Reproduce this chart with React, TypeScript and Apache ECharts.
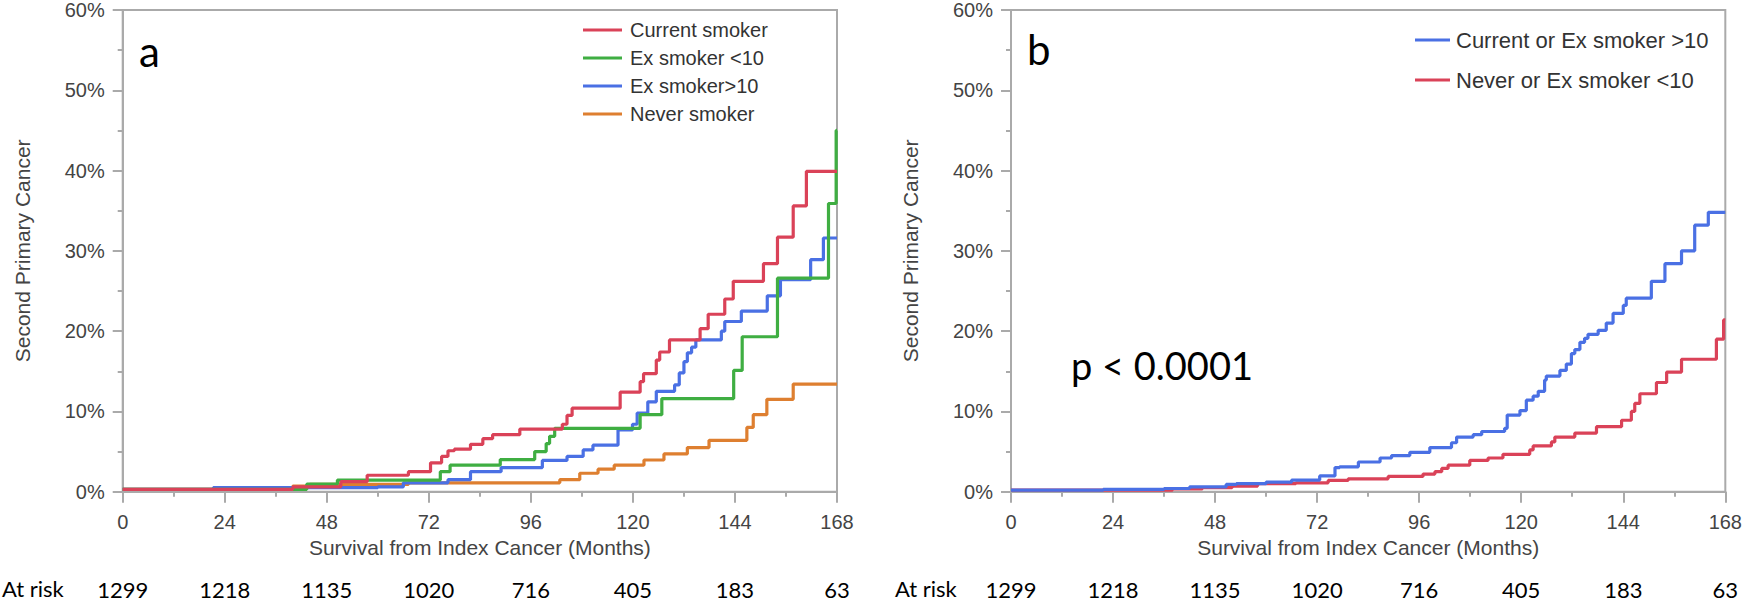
import React, { useEffect, useRef } from "react";
import * as echarts from "echarts";

// ---- Data (months, cumulative %) ----
const monthTicks = [0, 24, 48, 72, 96, 120, 144, 168];
const atRisk = [1299, 1218, 1135, 1020, 716, 405, 183, 63];

const currentSmoker = [
  [0, 0.3], [40, 0.6], [51.3, 1.25], [57.5, 2.05], [67.2, 2.5], [72.4, 3.6], [75, 4.4], [76.5, 5.1],
  [78, 5.3], [81.8, 5.9], [84.7, 6.6], [87, 7.1], [93.4, 7.8], [103.4, 8.4], [104.5, 9.5], [105.7, 10.4],
  [117, 12.4], [121.7, 13.7], [122.5, 14.7], [125.5, 16.4], [126.3, 17.4], [128.6, 18.9], [135.8, 20.3],
  [137.7, 22.1], [141.6, 24.0], [143.6, 26.2], [150.7, 28.4], [154, 31.7], [157.7, 35.6], [160.8, 39.9],
  [168, 39.9],
];
const exSmokerLt10 = [
  [0, 0.3], [43.3, 0.95], [50.5, 1.45], [74.7, 2.5], [77, 3.3], [88.8, 4.0], [96.9, 5.0], [99.6, 6.0],
  [100.4, 6.9], [101.6, 7.9], [121.7, 9.6], [126.8, 11.6], [143.7, 15.1], [145.7, 19.3], [154, 26.6],
  [166, 35.9], [167.8, 45.0], [168, 45.0],
];
const exSmokerGt10 = [
  [0, 0.3], [21.3, 0.5], [60, 0.6], [66, 1.1], [76.5, 1.5], [81.8, 2.5], [89, 3.0], [98.7, 3.9],
  [104.5, 4.4], [108.3, 5.2], [110.6, 5.8], [116.5, 7.7], [119.9, 8.4], [121, 9.8], [123.5, 11.2],
  [125.5, 12.5], [129.8, 13.3], [130.9, 14.8], [132, 16.2], [132.8, 17.3], [133.8, 18.0], [134.8, 18.9],
  [140.8, 20.0], [141.6, 21.2], [145.5, 22.5], [151.6, 24.4], [154.7, 26.4], [161.8, 28.9], [164.8, 31.6],
  [168, 31.6],
];
const neverSmoker = [
  [0, 0.3], [36.2, 0.45], [40, 0.7], [44, 0.9], [67.2, 1.1], [102.8, 1.5], [107.5, 2.3], [111.8, 2.8],
  [115.6, 3.3], [122.6, 3.95], [127.3, 4.7], [132.8, 5.5], [137.9, 6.4], [146.8, 8.0], [148.3, 9.6],
  [151.5, 11.5], [157.7, 13.4], [168, 13.4],
];
const currentOrExGt10 = [
  [0, 0.2], [21.7, 0.3], [36, 0.4], [42, 0.6], [50.6, 0.9], [53, 1.0], [60, 1.2], [66, 1.45], [72.6, 1.96],
  [76.2, 3.0], [77.3, 3.1], [81.7, 3.7], [86.8, 4.2], [89.5, 4.5], [93.8, 4.9], [98.5, 5.5], [103.6, 6.1],
  [104.8, 6.8], [108.7, 7.1], [110.7, 7.5], [116.1, 7.9], [116.7, 9.55], [119.7, 10.1], [121.2, 11.4],
  [122.8, 11.9], [124, 12.5], [125.5, 13.9], [125.9, 14.4], [129.1, 15.1], [130.6, 15.9], [131.8, 17.2],
  [132.6, 17.7], [133.8, 18.6], [134.9, 19.1], [135.7, 19.6], [138.1, 20.1], [140, 21.0], [141.6, 22.2],
  [144, 23.2], [144.7, 24.1], [150.6, 26.2], [153.8, 28.4], [157.7, 30.0], [160.8, 33.2], [164, 34.8],
  [168, 34.8],
];
const neverOrExLt10 = [
  [0, 0.2], [38, 0.35], [45, 0.5], [52, 0.7], [58, 1.0], [67, 1.1], [74.6, 1.4], [79.3, 1.6], [88.7, 1.9],
  [96.9, 2.2], [99.7, 2.5], [101.3, 2.9], [102.8, 3.3], [107.9, 3.9], [112.2, 4.2], [115.7, 4.65],
  [122, 5.2], [122.8, 5.7], [127.1, 6.2], [127.9, 6.8], [132.6, 7.3], [137.7, 8.1], [143.6, 8.9],
  [145.9, 10.0], [146.7, 11.0], [147.9, 12.2], [151.8, 13.6], [154.2, 14.9], [157.7, 16.5], [165.9, 19.0],
  [167.6, 21.4], [168, 21.4],
];

const AX = "#aaaaaa";
const TXT = "#444444";
const SANS = "Liberation Sans, Arial, sans-serif";
const CAL = "Lato, sans-serif";

function mainX(gridIndex: number) {
  return {
    type: "value",
    gridIndex,
    min: 0,
    max: 168,
    interval: 24,
    axisLine: { lineStyle: { color: AX, width: 2 } },
    axisTick: { length: 11, lineStyle: { color: AX, width: 2 } },
    minorTick: { show: true, splitNumber: 2, length: 5, lineStyle: { color: AX, width: 2 } },
    splitLine: { show: false },
    axisLabel: { fontSize: 20, color: TXT, fontFamily: SANS, margin: 20 },
    name: "Survival from Index Cancer (Months)",
    nameLocation: "middle",
    nameGap: 45,
    nameTextStyle: { fontSize: 21, color: TXT, fontFamily: SANS },
  };
}
function riskX(gridIndex: number) {
  return {
    type: "value",
    gridIndex,
    min: 0,
    max: 168,
    interval: 24,
    position: "bottom",
    axisLine: { show: false },
    axisTick: { show: false },
    splitLine: { show: false },
    axisLabel: {
      fontSize: 22,
      lineHeight: 24,
      color: "#000",
      fontFamily: CAL,
      margin: 86,
      formatter: (v: number) => {
        const i = monthTicks.indexOf(v);
        return i >= 0 ? String(atRisk[i]) : "";
      },
    },
  };
}
function mainY(gridIndex: number) {
  return {
    type: "value",
    gridIndex,
    min: 0,
    max: 60,
    interval: 10,
    axisLine: { show: true, lineStyle: { color: AX, width: 2 } },
    axisTick: { show: true, length: 10, lineStyle: { color: AX, width: 2 } },
    minorTick: { show: true, splitNumber: 2, length: 5, lineStyle: { color: AX, width: 2 } },
    splitLine: { show: false },
    axisLabel: { fontSize: 20, color: TXT, fontFamily: SANS, margin: 18, formatter: "{value}%" },
    name: "Second Primary Cancer",
    nameLocation: "middle",
    nameGap: 90,
    nameTextStyle: { fontSize: 21, color: TXT, fontFamily: SANS },
  };
}
function line(name: string, data: number[][], color: string, xi: number, yi: number) {
  return {
    type: "line",
    name,
    data,
    step: "end",
    symbol: "none",
    showSymbol: false,
    xAxisIndex: xi,
    yAxisIndex: yi,
    lineStyle: { color, width: 3.2 },
    itemStyle: { color },
  };
}

export default function App() {
  const ref = useRef<HTMLDivElement>(null);
  useEffect(() => {
    if (!ref.current) return;
    const chart = echarts.init(ref.current, undefined, { renderer: "svg" });
    const gridCommon = { top: 10, bottom: 112.3, show: true, borderColor: AX, borderWidth: 2, backgroundColor: "transparent" };
    chart.setOption({
      animation: false,
      backgroundColor: "#fff",
      grid: [
        { ...gridCommon, left: 122.7, right: 908 },
        { ...gridCommon, left: 1011, right: 19.3 },
      ],
      xAxis: [mainX(0), mainX(1), riskX(0), riskX(1)],
      yAxis: [mainY(0), mainY(1)],
      legend: [
        {
          data: ["Current smoker", "Ex smoker <10", "Ex smoker>10", "Never smoker"],
          orient: "vertical",
          left: 578,
          top: 15,
          icon: "rect",
          itemWidth: 39,
          itemHeight: 3,
          itemGap: 8,
          textStyle: { fontSize: 20, color: "#333", fontFamily: SANS, lineHeight: 20, padding: [0, 0, 0, 3] },
        },
        {
          data: ["Current or Ex smoker >10", "Never or Ex smoker <10"],
          orient: "vertical",
          left: 1410,
          top: 24,
          icon: "rect",
          itemWidth: 35,
          itemHeight: 3,
          itemGap: 18,
          textStyle: { fontSize: 22, color: "#333", fontFamily: SANS, lineHeight: 22, padding: [0, 0, 0, 1] },
        },
      ],
      graphic: [
        { type: "text", left: 139, top: 30, style: { text: "a", fontSize: 42, fontFamily: CAL, fill: "#000" } },
        { type: "text", left: 1027, top: 28, style: { text: "b", fontSize: 42, fontFamily: CAL, fill: "#000" } },
        { type: "text", left: 1071, top: 346, style: { text: "p < 0.0001", fontSize: 38, fontFamily: CAL, fill: "#000" } },
        { type: "text", left: 2, top: 577, style: { text: "At risk", fontSize: 22, fontFamily: CAL, fill: "#000" } },
        { type: "text", left: 895, top: 577, style: { text: "At risk", fontSize: 22, fontFamily: CAL, fill: "#000" } },
      ],
      series: [
        line("Never smoker", neverSmoker, "#de7f30", 0, 0),
        line("Ex smoker>10", exSmokerGt10, "#4a70e4", 0, 0),
        line("Ex smoker <10", exSmokerLt10, "#3fae42", 0, 0),
        line("Current smoker", currentSmoker, "#da4258", 0, 0),
        line("Never or Ex smoker <10", neverOrExLt10, "#da4258", 1, 1),
        line("Current or Ex smoker >10", currentOrExGt10, "#4a70e4", 1, 1),
      ],
    });
    return () => chart.dispose();
  }, []);
  return <div ref={ref} style={{ position: "fixed", left: 0, top: 0, width: 1745, height: 604 }} />;
}
